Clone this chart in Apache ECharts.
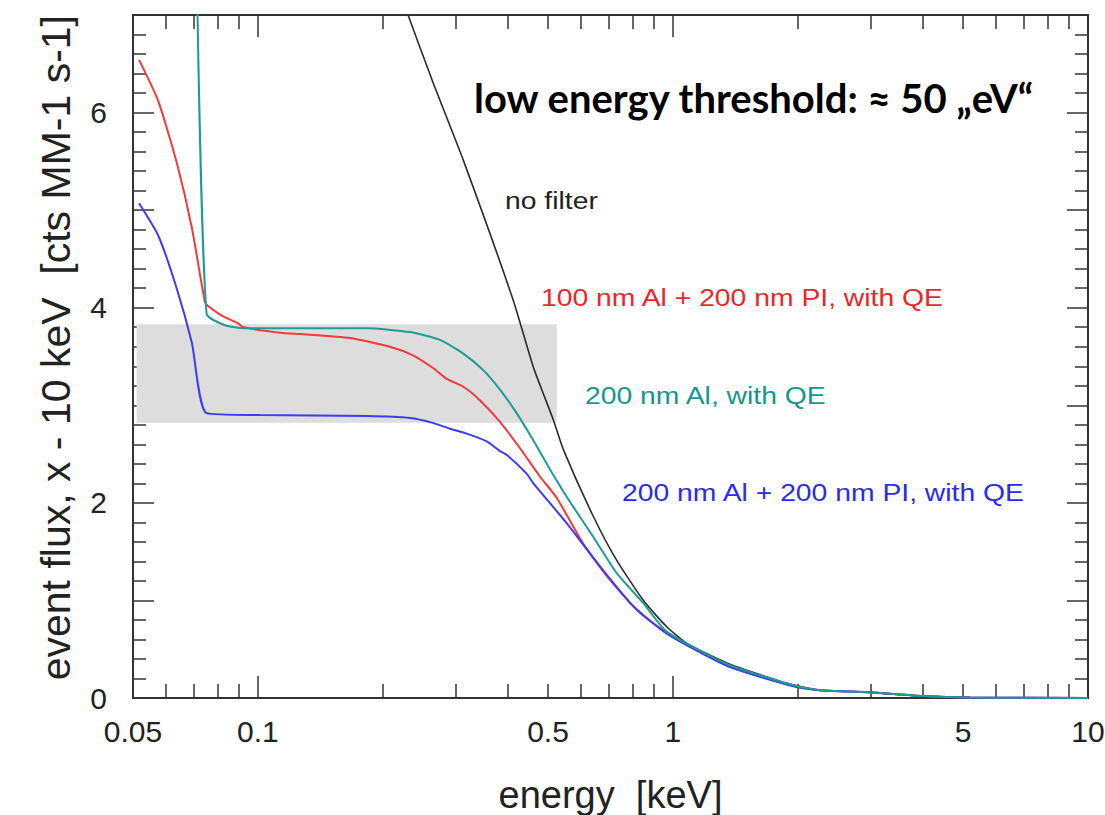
<!DOCTYPE html>
<html>
<head>
<meta charset="utf-8">
<script src="https://cdn.jsdelivr.net/npm/echarts@6/dist/echarts.min.js"></script>
<style>
html,body{margin:0;padding:0;background:#fff;}
#chart{width:1105px;height:815px;}
</style>
</head>
<body>
<div id="chart"></div>
<script>
// ---------------- data ----------------
const noFilterEnergy = [0.217, 0.230, 0.2646, 0.3126, 0.412, 0.461, 0.515, 0.545, 0.643, 0.732, 0.849, 0.966, 1.08, 1.348, 1.88, 2.26, 2.95, 4.0, 5.2, 10];
const noFilterFlux   = [7.3, 7.0, 6.30, 5.51, 4.08, 3.39, 2.85, 2.54, 1.86, 1.41, 1.00, 0.73, 0.56, 0.36, 0.15, 0.08, 0.06, 0.02, 0.005, 0];

const al100PiEnergy = [0.0517, 0.0575, 0.0637, 0.0693, 0.0745, 0.0757, 0.0818, 0.0896, 0.0922, 0.115, 0.1263, 0.1667, 0.208, 0.237, 0.2646, 0.285, 0.3126, 0.343, 0.383, 0.428, 0.478, 0.525, 0.608, 0.705, 0.833, 1.0, 1.348, 1.95, 2.26, 2.95, 4.0, 5.2, 10];
const al100PiFlux   = [6.54, 6.12, 5.49, 4.82, 4.06, 4.02, 3.92, 3.84, 3.80, 3.74, 3.73, 3.69, 3.60, 3.51, 3.38, 3.27, 3.19, 3.05, 2.83, 2.56, 2.27, 2.05, 1.58, 1.21, 0.87, 0.63, 0.34, 0.13, 0.08, 0.06, 0.02, 0.005, 0];

const al200Energy = [0.0714, 0.0752, 0.0833, 0.0931, 0.145, 0.183, 0.2325, 0.2746, 0.3126, 0.349, 0.383, 0.420, 0.461, 0.506, 0.555, 0.643, 0.732, 0.849, 0.966, 1.348, 1.95, 2.26, 2.95, 4.0, 5.2, 10];
const al200Flux   = [7.2, 3.94, 3.82, 3.79, 3.79, 3.79, 3.75, 3.67, 3.53, 3.36, 3.16, 2.92, 2.64, 2.34, 2.06, 1.65, 1.28, 0.97, 0.68, 0.35, 0.13, 0.08, 0.06, 0.02, 0.005, 0];

const al200PiEnergy = [0.0517, 0.0575, 0.0637, 0.0693, 0.0752, 0.101, 0.183, 0.2325, 0.264, 0.290, 0.3185, 0.356, 0.383, 0.398, 0.444, 0.461, 0.555, 0.667, 0.803, 0.966, 1.348, 1.95, 2.26, 2.95, 4.0, 5.2, 10];
const al200PiFlux   = [5.07, 4.74, 4.20, 3.64, 2.92, 2.90, 2.89, 2.87, 2.82, 2.76, 2.71, 2.63, 2.53, 2.49, 2.30, 2.20, 1.79, 1.35, 0.94, 0.66, 0.33, 0.12, 0.08, 0.06, 0.02, 0.005, 0];

const bandEnergy = [0.051, 0.525];
const bandFlux   = [2.82, 3.83];

const xMinorTicks  = [0.05, 0.06, 0.07, 0.08, 0.09, 0.2, 0.3, 0.4, 0.5, 0.6, 0.7, 0.8, 0.9, 2, 3, 4, 5, 6, 7, 8, 9];
const xMajorTicks  = [0.1, 1, 10];
const xLabelValues = [0.05, 0.1, 0.5, 1, 5, 10];
const xTickLabels  = ['0.05', '0.1', '0.5', '1', '5', '10'];
const yLabelValues = [0, 2, 4, 6];
const yTickLabels  = ['0', '2', '4', '6'];

const seriesNames = ['no filter', '100 nm Al + 200 nm PI, with QE', '200 nm Al, with QE', '200 nm Al + 200 nm PI, with QE'];

// ---------------- chart ----------------
const pair = (xs, ys) => xs.map((x, i) => [x, ys[i]]);
const labelLookup = (vals, labels) => (v) => {
  const num = typeof v === 'object' && v !== null ? v.value : +v;
  const i = vals.findIndex(t => Math.abs(t - num) <= 1e-6 * Math.max(1, Math.abs(t)));
  return i >= 0 ? labels[i] : '';
};
const FONT = 'Liberation Sans, Arial, Helvetica, sans-serif';
const tickLine = {color: '#333', width: 1.5};

const baseX = {
  type: 'log', logBase: 10, min: 0.05, max: 10,
  splitLine: {show: false}, minorSplitLine: {show: false}, minorTick: {show: false},
  axisLine: {show: false, onZero: false}
};
const baseY = {
  type: 'value', min: 0, max: 7, interval: 1,
  splitLine: {show: false}, minorSplitLine: {show: false},
  axisLine: {show: false, onZero: false}
};
const lineCommon = {type: 'line', xAxisIndex: 0, yAxisIndex: 0, showSymbol: false, symbol: 'none', clip: true, smooth: 0.2};

const option = {
  animation: false,
  backgroundColor: '#fff',
  grid: {left: 133, right: 17, top: 15, bottom: 117, show: true, borderColor: '#333', borderWidth: 2, backgroundColor: 'transparent', containLabel: false, outerBoundsMode: 'none'},
  xAxis: [
    Object.assign({}, baseX, {
      position: 'bottom',
      axisTick: {show: true, inside: true, length: 14, customValues: xMinorTicks, lineStyle: tickLine},
      axisLabel: {show: true, customValues: xLabelValues, formatter: labelLookup(xLabelValues, xTickLabels), fontSize: 30, color: '#222', margin: 18, fontFamily: FONT},
      name: 'energy  [keV]', nameLocation: 'middle', nameGap: 78,
      nameTextStyle: {fontSize: 38, color: '#222', fontFamily: FONT}
    }),
    Object.assign({}, baseX, {
      position: 'bottom',
      axisTick: {show: true, inside: true, length: 22, customValues: xMajorTicks, lineStyle: tickLine},
      axisLabel: {show: false}
    }),
    Object.assign({}, baseX, {
      position: 'top',
      axisTick: {show: true, inside: true, length: 14, customValues: xMinorTicks, lineStyle: tickLine},
      axisLabel: {show: false}
    }),
    Object.assign({}, baseX, {
      position: 'top',
      axisTick: {show: true, inside: true, length: 22, customValues: xMajorTicks, lineStyle: tickLine},
      axisLabel: {show: false}
    })
  ],
  yAxis: [
    Object.assign({}, baseY, {
      position: 'left',
      axisTick: {show: true, inside: true, length: 21, lineStyle: tickLine},
      minorTick: {show: true, splitNumber: 5, length: 13, lineStyle: tickLine},
      axisLabel: {show: true, customValues: yLabelValues, formatter: labelLookup(yLabelValues, yTickLabels), fontSize: 30, color: '#222', margin: 26, fontFamily: FONT},
      name: 'event flux, x - 10 keV  [cts MM-1 s-1]', nameLocation: 'end', nameGap: 0, nameRotate: 90,
      nameTextStyle: {fontSize: 41, color: '#222', fontFamily: FONT, align: 'right', verticalAlign: 'bottom', padding: [0, 0, 57, 0]}
    }),
    Object.assign({}, baseY, {
      position: 'right',
      axisTick: {show: true, inside: true, length: 21, lineStyle: tickLine},
      minorTick: {show: true, splitNumber: 5, length: 13, lineStyle: tickLine},
      axisLabel: {show: false}
    })
  ],
  series: [
    Object.assign({}, lineCommon, {
      name: seriesNames[0],
      data: pair(noFilterEnergy, noFilterFlux),
      lineStyle: {color: '#2b2b2b', width: 1.6}, itemStyle: {color: '#2b2b2b'},
      markArea: {
        silent: true, itemStyle: {color: '#dddddd'},
        data: [[{coord: [bandEnergy[0], bandFlux[1]]}, {coord: [bandEnergy[1], bandFlux[0]]}]]
      }
    }),
    Object.assign({}, lineCommon, {
      name: seriesNames[1],
      data: pair(al100PiEnergy, al100PiFlux),
      lineStyle: {color: '#ee3b3b', width: 2}, itemStyle: {color: '#ee3b3b'}
    }),
    Object.assign({}, lineCommon, {
      name: seriesNames[3],
      data: pair(al200PiEnergy, al200PiFlux),
      lineStyle: {color: '#3c3cee', width: 2}, itemStyle: {color: '#3c3cee'}
    }),
    Object.assign({}, lineCommon, {
      name: seriesNames[2],
      data: pair(al200Energy, al200Flux),
      lineStyle: {color: '#1c9c95', width: 2}, itemStyle: {color: '#1c9c95'}
    })
  ],
  graphic: [
    {type: 'text', x: 474, y: 98, style: {text: 'low energy threshold: ≈ 50 „eV“', fill: '#000', fontSize: 40, fontWeight: 'bold', fontFamily: 'Lato, "Open Sans", sans-serif', align: 'left', verticalAlign: 'middle', textAlign: 'left', textVerticalAlign: 'middle'}},
    {type: 'text', x: 505, y: 201, scaleX: 1.18, originX: 0, style: {text: seriesNames[0], fill: '#222', fontSize: 24, fontFamily: FONT, align: 'left', verticalAlign: 'middle', textAlign: 'left', textVerticalAlign: 'middle'}},
    {type: 'text', x: 541, y: 298, scaleX: 1.18, originX: 0, style: {text: seriesNames[1], fill: '#e8282c', fontSize: 24, fontFamily: FONT, align: 'left', verticalAlign: 'middle', textAlign: 'left', textVerticalAlign: 'middle'}},
    {type: 'text', x: 585, y: 396, scaleX: 1.18, originX: 0, style: {text: seriesNames[2], fill: '#17958e', fontSize: 24, fontFamily: FONT, align: 'left', verticalAlign: 'middle', textAlign: 'left', textVerticalAlign: 'middle'}},
    {type: 'text', x: 622, y: 493, scaleX: 1.18, originX: 0, style: {text: seriesNames[3], fill: '#2b2be8', fontSize: 24, fontFamily: FONT, align: 'left', verticalAlign: 'middle', textAlign: 'left', textVerticalAlign: 'middle'}}
  ]
};

const chart = echarts.init(document.getElementById('chart'), null, {renderer: 'svg'});
chart.setOption(option);
</script>
</body>
</html>
